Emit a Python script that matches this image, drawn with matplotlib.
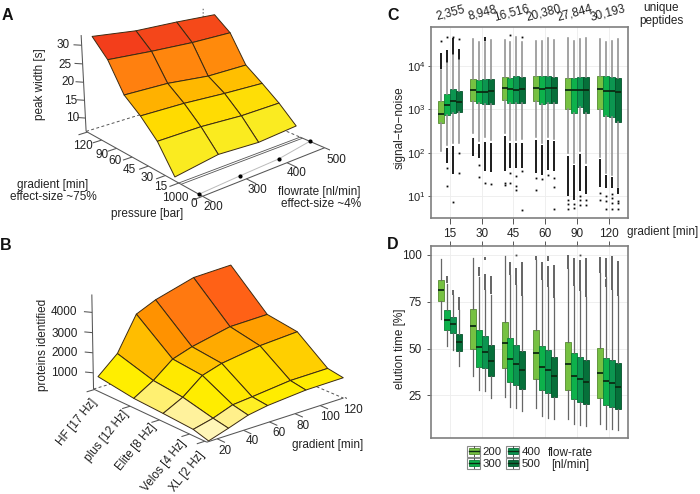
import numpy as np, matplotlib
matplotlib.use('Agg')
import matplotlib.pyplot as plt
from matplotlib.colors import LinearSegmentedColormap, Normalize, to_rgb
from matplotlib.patches import Patch, Rectangle
from matplotlib.lines import Line2D
from matplotlib.legend_handler import HandlerBase

plt.rcParams['font.family'] = ['Liberation Sans', 'DejaVu Sans']
plt.rcParams['mathtext.default'] = 'regular'
W, H = 700, 494
FS = 8.5
AXC = '#555555'

# ---------- panel A data
a_gradient = ['15', '30', '45', '60', '90', '120']
a_flow = [200, 300, 400, 500]
a_peak = [[4.9, 6.65, 5.9, 6.65], [11.9, 11.9, 11.15, 11.15], [16.4, 16.15, 15.4, 14.9],
          [19.9, 19.65, 18.4, 18.4], [27.4, 26.65, 26.15, 26.15], [31.9, 30.65, 30.4, 29.9]]
a_pressure = [150, 250, 330, 600]
a_ztick = [10, 15, 20, 25, 30]

# ---------- panel B data
b_gradient = [15, 30, 45, 60, 90, 120]
b_hz = [2, 4, 8, 12, 17]
b_names = ['XL [2 Hz]', 'Velos [4 Hz]', 'Elite [8 Hz]', 'plus [12 Hz]', 'HF [17 Hz]']
b_proteins = [[141, 447, 777, 942, 1107, 1130], [353, 589, 942, 1036, 1248, 1272],
              [447, 942, 1719, 2025, 2332, 2473], [518, 1107, 1884, 2214, 2661, 2732],
              [777, 1648, 3344, 3792, 4381, 4498]]
b_ztick = [1000, 2000, 3000, 4000]
b_xtick = [20, 40, 60, 80, 100, 120]

# ---------- panels C, D data
groups = ['15', '30', '45', '60', '90', '120']
flows = ['200', '300', '400', '500']
peptides = ['2,355', '8,948', '16,516', '20,380', '27,844', '30,193']
colors = ['#76C142', '#0DB14B', '#0C9550', '#06703A']

c_q1 = [[480, 720, 810, 850], [1540, 1360, 1310, 1310], [1590, 1360, 1380, 1380],
        [1510, 1340, 1400, 1380], [1000, 800, 1100, 810], [1000, 680, 660, 510]]
c_med = [[785, 1260, 1510, 1450], [2750, 2520, 2550, 2620], [3100, 2950, 2800, 2850],
         [3100, 2950, 3050, 3000], [2700, 2700, 2800, 2750], [2900, 2600, 2600, 2500]]
c_q3 = [[1550, 2250, 2900, 2600], [4850, 4600, 4900, 5000], [5500, 5200, 5800, 5500],
        [5900, 5800, 5800, 5400], [5100, 5100, 5600, 5600], [5700, 5700, 5500, 5300]]
c_lo = [[107, 150, 166, 165], [280, 190, 229, 200], [280, 200, 200, 210],
        [235, 165, 229, 210], [98, 57, 107, 57], [81, 34, 31, 16.6]]
c_hi = [[8100, 11500, 17900, 13700], [41000, 36000, 34500, 40000], [40000, 34500, 46000, 34500],
        [38000, 38000, 42500, 40000], [42500, 38000, 41000, 42500], [41000, 35000, 37000, 41000]]
c_bands = [[[(8500, 19500)], [(11500, 23400), (57, 125)], [(18000, 43000), (32, 145)], [(13700, 24000)]],
           [[(82, 215)], [(75, 160)], [(37, 180), (37000, 47000)], [(35, 170)]],
           [[(37, 245)], [(44, 170)], [(44, 170)], [(44, 170)]],
           [[(34, 200)], [(31, 147)], [(40, 200)], [(38, 190)]],
           [[(9.8, 85)], [(8.1, 51)], [(13, 94)], [(11, 50)]],
           [[(16.6, 71)], [(15, 30)], [(15, 27)], [(11, 15)]]]
c_points = [[[37000], [46000, 44, 17], [46000, 7.4], [42000, 100, 34]],
            [[], [51, 28], [20], [18.6]],
            [[20, 18], [51000, 34, 20], [29, 17, 13.7], [47000, 37, 4.7]],
            [[26, 13.8], [25], [31], [26, 16, 5]],
            [[8.3, 6.7, 5], [6.7, 5.2], [10, 8, 6.2], [8, 6.1]],
            [[12, 8.2], [10, 7.5, 5], [11, 9, 7, 5], [7.8, 6.8, 5]]]

d_q1 = [[75.6, 60, 58.3, 48.9], [49.9, 40.3, 39.4, 35.2], [39.8, 32.3, 30.7, 28.6],
        [33.9, 28, 26.4, 24.3], [28, 22.9, 21.6, 20.5], [23.4, 20, 18.9, 17.7]]
d_med = [[81.5, 65.4, 63, 53.7], [61.9, 50.7, 48.2, 43.5], [53.1, 44.6, 41.7, 38.7],
         [47.4, 40.1, 38.5, 35.2], [41.6, 35.5, 33.9, 32.1], [37.1, 32.8, 31.8, 29.3]]
d_q3 = [[86.5, 70.4, 66.7, 57.8], [71.3, 59.9, 56.5, 52], [64.4, 55.5, 51.7, 48.5],
        [59.7, 51.5, 49, 45.5], [53.7, 47.4, 45.5, 43.7], [50.3, 45.1, 44, 42.3]]
d_lo = [[65.8, 51.4, 49.4, 40.9], [35.5, 27.7, 27.3, 23.7], [24.3, 18.9, 18.4, 16.6],
        [18, 14, 13, 12.3], [12.3, 9.5, 9.1, 8.6], [9.9, 7.2, 6.8, 6.5]]
d_hi = [[97.9, 84.5, 78.6, 70.6], [98.2, 88.4, 81.3, 78.6], [99.5, 89.3, 84, 78],
        [97.3, 86.6, 83, 77], [92.5, 83.6, 80.9, 77.4], [90.2, 88.4, 81.3, 78]]
d_bands = [[[], [(84.9, 88.8)], [(78.6, 81.3)], [(70.6, 77.7)]],
           [[], [(89, 93.8)], [(81.3, 90), (97.5, 99)], [(79, 89)]],
           [[], [(89.3, 96)], [(84, 92.9)], [(78, 96.4)]],
           [[(97.3, 99.6)], [(86.6, 96.4)], [(83, 94), (97, 99.6)], [(77, 94.7)]],
           [[(92.5, 100)], [(83.6, 98.2)], [(80.9, 97.3)], [(77.4, 98.2)]],
           [[(90.2, 99)], [(88.4, 98.5), (83, 87)], [(81.3, 99.6)], [(78, 97)]]]
d_points = [[[], [], [], []], [[], [], [], []], [[], [], [100], []],
            [[], [], [], []], [[], [], [100], []], [[], [], [], []]]

fig = plt.figure(figsize=(W / 100, H / 100), dpi=100)


def ptext(x, y, s, **kw):
    kw.setdefault('fontsize', FS)
    kw.setdefault('ha', 'center')
    kw.setdefault('va', 'center')
    kw.setdefault('color', '#222222')
    return fig.text(x / W, 1 - y / H, s, **kw)


def axes3d(elev, azim, lf, la, lb, xl, yl, zl, s, tx, ty):
    lo2, hi2 = -0.095, 0.09
    size = s * (hi2 - lo2)
    left = tx + s * lo2
    bottom = ty + s * lo2
    ax = fig.add_axes([left / W, bottom / H, size / W, size / H], projection='3d')
    ax.view_init(elev=elev, azim=azim)
    ax.set_proj_type('persp', focal_length=np.exp(lf))
    ax.set_box_aspect((np.exp(la), np.exp(lb), 1))
    ax.set_xlim(*xl, view_margin=0)
    ax.set_ylim(*yl, view_margin=0)
    ax.set_zlim(*zl, view_margin=0)
    ax.set_axis_off()
    ax.computed_zorder = False
    return ax


def seg(ax, p, q, color=AXC, lw=0.75, ls='-', z=2):
    ax.plot([p[0], q[0]], [p[1], q[1]], [p[2], q[2]], color=color, lw=lw, ls=ls, zorder=z,
            solid_capstyle='butt')


def surface(ax, X, Y, Z, cmap, norm):
    Z = np.asarray(Z, float)
    cell = (Z[:-1, :-1] + Z[1:, :-1] + Z[:-1, 1:] + Z[1:, 1:]) / 4
    ax.plot_surface(X, Y, Z, rstride=1, cstride=1, facecolors=cmap(norm(cell)), shade=False,
                    edgecolor='#3b2a12', linewidth=0.7, antialiased=True, zorder=5)


# ---------- A
xlo, xhi, ylo, yhi, z0, z1 = -0.2085, 2.729, -2.046, 5.089, 6.2, 32.7
axA = axes3d(21.14, -130.2, -0.46, 0.419, 0.5825, (xlo, xhi), (ylo, yhi), (z0, z1), 1408, 202.9, 402.6)
cmA = LinearSegmentedColormap.from_list('a', [(0, '#FAEC22'), (0.27, '#FFDB00'), (0.47, '#FFAE00'),
                                              (0.73, '#FF7C10'), (1, '#F23A1C')])
rowsA, colsA = np.arange(len(a_gradient)), np.arange(len(a_flow))
XA, YA = np.meshgrid(colsA, rowsA)
surface(axA, XA, YA, a_peak, cmA, Normalize(8.4, 29.5))
seg(axA, (xlo, yhi, z0), (xlo, yhi, z1))
for z in a_ztick:
    seg(axA, (xlo, yhi, z), (xlo - .1, yhi + .25, z))
seg(axA, (xlo, yhi, z0), (xlo, ylo, z0))
for r in rowsA:
    seg(axA, (xlo, r, z0), (xlo - .2, r, z0))
seg(axA, (xlo, yhi, z0), (xhi, yhi, z0), ls=(0, (3, 2.5)), lw=.7)
y1000, y0p = -0.76, ylo
seg(axA, (xhi, yhi, z0), (xhi, y1000, z0), ls=(0, (3, 2.5)), lw=.7)
seg(axA, (xhi, yhi, z0), (xhi, yhi, z1), ls=(0, (1.5, 2)), lw=.7)
fx = [xlo + (f - a_flow[0]) / (a_flow[-1] - a_flow[0]) * (xhi - xlo) for f in a_flow]
seg(axA, (xlo, ylo, z0), (xhi, ylo, z0), z=6)
seg(axA, (xhi, ylo, z0), (xhi, y1000, z0), z=6)
seg(axA, (xlo, y1000, z0), (xhi, y1000, z0), z=6, lw=.6)
seg(axA, (xlo, y1000 - .13, z0), (xhi, y1000 - .13, z0), z=6, lw=.6)
for f in fx:
    seg(axA, (f, ylo, z0), (f, ylo - .5, z0), z=6)
seg(axA, (xlo, y1000, z0), (xlo - .2, y1000, z0), z=6)
seg(axA, (xlo, ylo, z0), (xlo - .2, ylo, z0), z=6)
py = [ylo + p / 1000 * (y1000 - ylo) for p in a_pressure]
axA.plot(fx, py, [z0] * 4, color='#bbbbbb', lw=.7, zorder=6)
axA.plot(fx, py, [z0] * 4, ls='', marker='o', ms=2, color='k', zorder=7)
for s, x, y in zip(a_ztick, [73, 71, 68, 65, 63], [118, 101, 82, 64.7, 45]):
    ptext(x, y, str(s))
for s, x, y in zip(a_gradient[::-1], [83, 102, 115, 129, 147, 161], [146, 155, 161, 170, 178, 187]):
    ptext(x, y, s)
ptext(175.5, 198, '1000'); ptext(194, 204, '0')
for s, x, y in zip(a_flow, [213, 257, 297, 336], [207, 190, 173, 160]):
    ptext(x, y, str(s))
ptext(40, 84, 'peak width [s]', rotation=90)
ptext(53, 191, 'gradient [min]\neffect-size ~75%', linespacing=1.05)
ptext(147, 214, 'pressure [bar]')
ptext(361, 198, 'flowrate [nl/min]\neffect-size ~4%', ha='right', linespacing=1.05, multialignment='right')

# ---------- B
xlo, xhi, ylo, yhi, z0, z1 = 12.18, 118.7, 1.743, 17.14, 185, 4880
axB = axes3d(20.8, -129.8, 0.6154, 0.5591, 0.5713, (xlo, xhi), (ylo, yhi), (z0, z1), 1429, 217.9, 147.6)
b_cuts = [380, 700, 1000, 1450, 1700, 2000, 2500, 2800, 3260, 3670]
b_cols = ['#FFF6B8', '#FFF08A', '#FFEE00', '#FFE800', '#FFDC00', '#FFBC00', '#FFA000', '#FF9200', '#FF7A10', '#FF5A18']
cmB = LinearSegmentedColormap.from_list('b', [((c - b_cuts[0]) / (b_cuts[-1] - b_cuts[0]), k) for c, k in zip(b_cuts, b_cols)])
XB, YB = np.meshgrid(b_gradient, b_hz)
surface(axB, XB, YB, b_proteins, cmB, Normalize(b_cuts[0], b_cuts[-1]))
seg(axB, (xlo, yhi, z0), (xlo, yhi, z1))
for z in b_ztick:
    seg(axB, (xlo, yhi, z), (xlo - 3, yhi + .6, z))
seg(axB, (xlo, yhi, z0), (xlo, ylo, z0))
for h in b_hz:
    seg(axB, (xlo, h, z0), (xlo - 6, h, z0))
seg(axB, (xlo, yhi, z0), (xhi, yhi, z0), ls=(0, (3, 2.5)), lw=.7)
seg(axB, (xhi, yhi, z0), (xhi, ylo, z0), ls=(0, (3, 2.5)), lw=.7)
seg(axB, (xlo, ylo, z0), (xhi, ylo, z0), z=6)
for g in b_xtick:
    seg(axB, (g, ylo, z0), (g, ylo - 1, z0), z=6)
for s, y in zip(b_ztick, [373.3, 353.3, 333.7, 312]):
    ptext(77.5, y, f'{s}', ha='right')
for s, x, y in zip(b_names[::-1], [95, 126, 154, 184, 202], [400, 412, 425, 441, 453]):
    ptext(x, y, s, ha='right', va='center', rotation=51, rotation_mode='anchor')
for s, x, y in zip(b_xtick, [225, 252, 279, 303, 330, 353], [451, 441, 433, 426, 417, 410]):
    ptext(x, y, str(s))
ptext(328, 445, 'gradient [min]')
ptext(42.7, 345, 'proteins identified', rotation=90)


# ---------- C, D
def darker(c, f=.72):
    return tuple(v * f for v in to_rgb(c))


def boxpanel(ax, q1, med, q3, lo, hi, bands, points, wc, wl, fc, blw):
    off = [-0.28, -0.094, 0.094, 0.28]
    for g in range(6):
        for k in range(4):
            pos = g + 1 + off[k]
            stats = [dict(med=med[g][k], q1=q1[g][k], q3=q3[g][k], whislo=lo[g][k], whishi=hi[g][k], fliers=[])]
            ax.bxp(stats, positions=[pos], widths=0.19, patch_artist=True, showcaps=False, showfliers=False,
                   manage_ticks=False, boxprops=dict(facecolor=colors[k], edgecolor=darker(colors[k]), lw=.6),
                   medianprops=dict(color='#0b2a12', lw=1.3, solid_capstyle='butt'),
                   whiskerprops=dict(color=wc, lw=wl), zorder=3)
            for a, b in bands[g][k]:
                ax.vlines(pos, a, b, color=fc, lw=blw, zorder=2)
            if points[g][k]:
                ax.plot([pos] * len(points[g][k]), points[g][k], ls='', marker='s', ms=1.3, color=fc, mew=0, zorder=2)
    ax.set_xlim(.4, 6.6)
    ax.set_xticks(range(1, 7))
    ax.grid(True, color='#EDEDED', lw=.6, zorder=0)
    ax.set_axisbelow(True)
    for sp in ax.spines.values():
        sp.set_color('#7F7F7F')
        sp.set_linewidth(1.2)
    ax.tick_params(axis='both', which='major', labelsize=FS, color=AXC, labelcolor='#222222', length=3, width=.7)
    ax.tick_params(axis='both', which='minor', length=0)


axC = fig.add_axes([430.7 / W, 1 - 218 / H, 197.3 / W, 191.3 / H])
axC.set_yscale('log')
boxpanel(axC, c_q1, c_med, c_q3, c_lo, c_hi, c_bands, c_points, '#8f8f8f', 1.15, '#0a0a0a', 1.3)
axC.set_ylim(10 ** 0.495, 10 ** 4.9)
axC.set_yticks([10, 100, 1000, 10000])
axC.set_xticklabels(groups)
axC.tick_params(axis='x', length=4.5, pad=3)
axC.tick_params(axis='y', length=2.5, pad=1.5, labelsize=8)
axC.minorticks_off()

axD = fig.add_axes([430.7 / W, 1 - 438.3 / H, 197.3 / W, 192.3 / H])
boxpanel(axD, d_q1, d_med, d_q3, d_lo, d_hi, d_bands, d_points, '#666666', .9, '#4a4a4a', 1.2)
axD.set_ylim(2, 104.8)
axD.set_yticks([25, 50, 75, 100])
axD.tick_params(axis='x', top=True, bottom=False, labelbottom=False, length=3.5)

for s, x in zip(peptides, [451, 482.3, 511.7, 543.3, 575, 607.3]):
    ptext(x, 13, s, rotation=15)
ptext(661, 14.3, 'unique\npeptides', linespacing=1.15)
ptext(662.7, 232, 'gradient [min]')
ptext(400, 128, 'signal\u2212to\u2212noise', rotation=90)
ptext(400, 349, 'elution time [%]', rotation=90)
ptext(570, 459, 'flow-rate\n[nl/min]', linespacing=1.1)


class BoxKey(HandlerBase):
    def create_artists(self, legend, orig, xd, yd, w, h, fs, trans):
        ax_, ay = -xd, -yd
        fr = Rectangle((ax_, ay), w, h, fc='white', ec='#8a8a8a', lw=.8, transform=trans)
        wh = Line2D([ax_ + w / 2] * 2, [ay + .5, ay + h - .5], color='#555555', lw=.7, transform=trans)
        bx = Rectangle((ax_ + .8, ay + h * .22), w - 1.6, h * .56, fc=orig.get_facecolor(),
                       ec=darker(orig.get_facecolor()[:3]), lw=.6, transform=trans)
        md = Line2D([ax_ + .8, ax_ + w - .8], [ay + h / 2] * 2, color='#0b2a12', lw=1, transform=trans)
        return [fr, wh, bx, md]


handles = [Patch(facecolor=c, label=f) for c, f in zip(colors, flows)]
fig.legend(handles=handles, handler_map={Patch: BoxKey()}, ncols=2, loc='upper left',
           bbox_to_anchor=(467.5 / W, 1 - 445.5 / H), frameon=False, fontsize=8.2, handlelength=1.14,
           handleheight=1.14, borderpad=0, borderaxespad=0, labelspacing=.05, columnspacing=.4, handletextpad=.2,
           labelcolor='#222222')

for s, x, y in [('A', 7, 16), ('B', 6, 246), ('C', 392.7, 15), ('D', 392.7, 244.3)]:
    ptext(x, y, s, fontsize=11.5, fontweight='bold', color='#111111')

fig.savefig('out.png', dpi=100)
